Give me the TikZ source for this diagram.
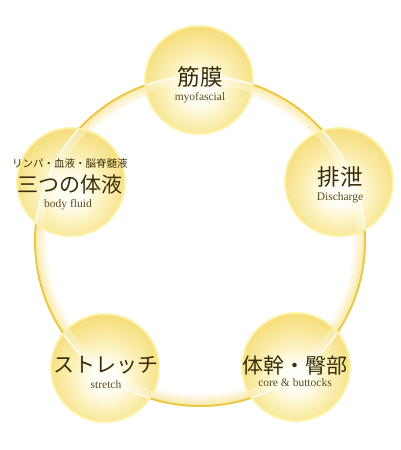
\documentclass[tikz,border=0pt]{standalone}
\usepackage{fontspec}
\setmainfont{Liberation Serif}
\newfontfamily\jp{Noto Sans CJK JP}
\definecolor{ringgold}{HTML}{EDC846}
\definecolor{ringpale}{HTML}{F6DC70}
\definecolor{ballc0}{HTML}{FFFFF6}
\definecolor{ballc1}{HTML}{FBF0B6}
\definecolor{ballc2}{HTML}{F6DF80}
\definecolor{ballc3}{HTML}{F0D25A}
\definecolor{ballc4}{HTML}{ECC945}
\definecolor{rimc}{HTML}{FFF2A8}
\definecolor{maintext}{HTML}{3A2E08}
\definecolor{subtext}{HTML}{5A4A20}
\pgfdeclareradialshading{ball}{\pgfpoint{0bp}{-5bp}}{color(0bp)=(ballc0); color(6bp)=(ballc0); color(16bp)=(ballc1); color(27bp)=(ballc2); color(38bp)=(ballc3); color(47bp)=(ballc4); color(50bp)=(ballc3); color(100bp)=(ballc3)}
\tikzset{
  ballnode/.style={circle, minimum size=108pt, inner sep=0pt, draw=rimc, line width=1.8pt, shading=ball},
  jpbig/.style={font=\jp\fontsize{21}{21}\selectfont, text=maintext, inner sep=0pt},
  jpsmall/.style={font=\jp\fontsize{10.5}{11}\selectfont, text=maintext, inner sep=0pt},
  entext/.style={font=\fontsize{11.5}{12}\selectfont, text=subtext, inner sep=0pt},
  ringline/.style={draw=ringgold, line width=2pt},
  ringhi/.style={draw=white, line width=1.6pt, opacity=0.85},
  ringhiglow/.style={draw=white, line width=8pt, opacity=0.3}
}
\begin{document}
\begin{tikzpicture}[x=1pt,y=-1pt]
\useasboundingbox (0,0) rectangle (400,450);
\fill[white] (0,0) rectangle (400,450);
% ring with inner glow
\coordinate (rc) at (200,241);
\foreach \i in {12,11,...,1}{
  \pgfmathsetmacro{\pct}{max(0,62-5*\i)}
  \draw[draw=ringpale!\pct!white, line width=1.3pt] (rc) circle (165-\i);
}
\draw[ringline] (rc) circle (165);
% balls
\node[ballnode] (top) at (199,80) {};
\node[ballnode] (left) at (71,182) {};
\node[ballnode] (right) at (339,182) {};
\node[ballnode] (bl) at (105,368) {};
\node[ballnode] (br) at (296,367) {};
% ring highlight across balls
\foreach \b in {top,left,right,bl,br}{
  \begin{scope}
    \clip (\b.center) circle (53);
    \draw[ringhiglow] (rc) circle (161);
    \draw[ringhi] (rc) circle (165);
  \end{scope}
}
% texts
\node[jpbig, font=\jp\fontsize{22.5}{23}\selectfont] (t1) at (200,77) {筋膜};
\node[entext] (e1) at (200,98) {myofascial};
\node[jpsmall] (s2) at (70,163) {リンパ・血液・脳脊髄液};
\node[jpbig] (t2) at (70,185) {三つの体液};
\node[entext] (e2) at (68,205) {body fluid};
\node[jpbig, font=\jp\fontsize{22.5}{23}\selectfont] (t3) at (340,177) {排泄};
\node[entext] (e3) at (340,198) {Discharge};
\node[jpbig] (t4) at (106,365) {ストレッチ};
\node[entext] (e4) at (106,385) {stretch};
\node[jpbig] (t5) at (295,366) {体幹・臀部};
\node[entext] (e5) at (295,383) {core \& buttocks};
\end{tikzpicture}
\end{document}
